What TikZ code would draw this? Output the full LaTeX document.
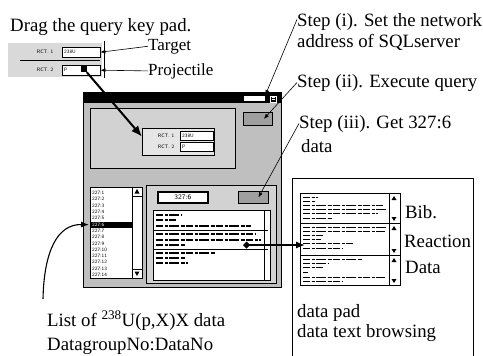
\documentclass[tikz,border=0pt]{standalone}
\usepackage{fontspec}
\setmainfont{Liberation Serif}
\usetikzlibrary{arrows.meta, positioning}
\tikzstyle{lbl} = [font=\fontsize{18.8}{22}\selectfont, inner sep=0pt, anchor=base west]
\tikzstyle{small} = [lbl, font=\fontsize{17}{20}\selectfont]
\tikzstyle{tiny} = [font=\fontsize{5}{6}\selectfont\sffamily, inner sep=0pt]
\tikzstyle{panel} = [draw, inner sep=0pt, anchor=north west]
\tikzstyle{btn} = [panel, fill=gray!75, line width=0.8pt]
\tikzstyle{field} = [panel, fill=white]
\tikzstyle{garble} = [line width=1.2pt, dash pattern=on 7pt off 1.5pt on 3pt off 1.5pt on 10pt off 1.5pt on 4pt off 1.5pt]
\tikzstyle{pointer} = [-{Latex[length=5pt,width=4pt]}, semithick]

\begin{document}
\begin{tikzpicture}[x=1pt, y=-1pt]
  \useasboundingbox (0,0) rectangle (483,356);

  % query key pad being dragged
  \node[lbl] (drag) at (10,31) {Drag the query key pad.};
  \node[panel, draw=none, fill=gray!30, minimum width=94pt, minimum height=34pt] (keypad) at (8,43) {};
  \draw (20,60) -- (100,60);
  \draw (104,41) -- (104,78);
  \node[tiny] at (45,52) {RCT. 1};
  \node[tiny] at (45,70) {RCT. 2};
  \node[field, minimum width=38pt, minimum height=10pt] (tgtfield) at (62,47) {};
  \node[field, minimum width=38pt, minimum height=10pt] (prjfield) at (62,65) {};
  \node[tiny, anchor=west] at (64,52) {238U};
  \node[tiny, anchor=west] at (64,70) {P};
  \node[fill=black, minimum size=6pt, inner sep=0pt] (grip) at (84,69) {};
  \node[small] (target) at (148,50) {Target};
  \node[small] (proj) at (148,75) {Projectile};
  \draw[pointer] (target.west) -- (tgtfield.east);
  \draw[pointer] (proj.west) -- (prjfield.east);

  % main window
  \node[panel, fill=gray!50, minimum width=198pt, minimum height=195pt] (win) at (83,92) {};
  \fill[black] (83,92) rectangle (281,103);
  \node[field, minimum width=22pt, minimum height=6pt] (addr) at (243,95) {};
  \node[panel, draw=white, fill=black, minimum size=6pt] (winicon) at (270,95.5) {};
  \draw[white] (271.5,97.5) -- (274.5,97.5) (271.5,99.5) -- (274.5,99.5);

  % query panel
  \node[panel, fill=gray!35, minimum width=145pt, minimum height=60pt] (qpanel) at (90,108) {};
  \node[panel, fill=gray!20, minimum width=72pt, minimum height=27pt] (querypad) at (142,128) {};
  \node[tiny] at (166,136) {RCT. 1};
  \node[tiny] at (166,147) {RCT. 2};
  \node[field, minimum width=33pt, minimum height=9pt] (qtgt) at (180,131) {};
  \node[field, minimum width=33pt, minimum height=9pt] (qprj) at (180,142) {};
  \node[tiny, anchor=west] at (182,135.5) {238U};
  \node[tiny, anchor=west] at (182,146.5) {P};
  \node[btn, minimum width=29pt, minimum height=13pt] (exec) at (243,112) {};

  % data list
  \node[field, minimum width=52pt, minimum height=91pt] (dlist) at (90,187) {};
  \node[fill=black, anchor=north west, minimum width=42pt, minimum height=6pt, inner sep=0pt] (selrow) at (90,221.5) {};
  \foreach \i in {1,...,14}{
    \ifnum\i=6 \def\tc{white}\else\def\tc{black}\fi
    \node[tiny, text=\tc, anchor=west] at (92,{193+6.3*(\i-1)}) {227:\i};
  }
  \draw (132,187) -- (132,278);
  \draw (132,196) -- (142,196) (132,269) -- (142,269);
  \fill (137,189) -- (134.5,193.5) -- (139.5,193.5) -- cycle;
  \fill (137,276) -- (134.5,271.5) -- (139.5,271.5) -- cycle;

  % data number and text
  \node[panel, fill=gray!35, minimum width=130pt, minimum height=98pt] (rpanel) at (146,185) {};
  \node[panel, line width=1.6pt, fill=white, minimum width=50pt, minimum height=11pt,
        font=\fontsize{7}{8}\selectfont\sffamily] (dnum) at (157,191) {327:6};
  \node[btn, minimum width=30pt, minimum height=12pt] (getbtn) at (238,191) {};
  \node[field, minimum width=117pt, minimum height=70pt] (dtext) at (153,210) {};
  \draw (153,230) -- (268,230) (153,249) -- (268,249);
  \draw (264,210) -- (264,280);
  \foreach \y/\l in {215/25, 220/20, 226/95, 234/100, 240/105, 245/30, 253/60, 258/30, 263/32}
    \draw[garble] (156,\y) -- ++(\l,0);

  % data pad
  \draw (292,356) |- (473,178) -- (473,356);
  \node[field, minimum width=100pt, minimum height=92pt] (dwin) at (300,193) {};
  \draw (300,223) -- (400,223) (300,255) -- (400,255);
  \draw (389,193) -- (389,285);
  \foreach \y in {196,226,258}
    \fill (394,\y) -- (391.5,{\y+4}) -- (396.5,{\y+4}) -- cycle;
  \foreach \y in {221,253,283}
    \fill (394,\y) -- (391.5,{\y-4}) -- (396.5,{\y-4}) -- cycle;
  \foreach \y/\l in {197/15, 201/12, 205/80, 209/84, 213/75, 218/30,
                     227/84, 231/82, 235/20, 239/18, 243/50, 248/40,
                     259/60, 263/25, 267/20, 272/5, 277/82, 281/40}
    \draw[garble, line width=1pt] (303,\y) -- ++(\l,0);

  \coordinate (pick) at (243,245);
  \draw[{Diamond[length=7pt,width=7pt]}-{Latex[length=9pt,width=7pt]}, line width=1.3pt]
    (pick) -- ([xshift=5pt]dwin.west |- pick);

  \node[lbl] (bib) at (405,218) {Bib.};
  \node[lbl] (react) at (404,247) {Reaction};
  \node[lbl] (datal) at (405,273) {Data};
  \node[lbl] (padlbl) at (297,317) {data pad};
  \node[lbl] (browse) at (297,337) {data text browsing};

  % steps
  \node[lbl] (stepi) at (297,27) {Step (i). Set the network};
  \node[lbl] (stepib) at (297,48) {address of SQLserver};
  \node[lbl] (stepii) at (297,87) {Step (ii). Execute query};
  \node[lbl] (stepiii) at (299,128) {Step (iii). Get 327:6};
  \node[lbl] (stepiiib) at (301,152) {data};
  \draw[pointer] ([yshift=3pt]stepi.west) -- (addr.north east);
  \draw[pointer] (stepii.west) -- ([xshift=6pt]exec.center);
  \draw[pointer] (stepiii.west) -- ([xshift=5pt]getbtn.center);

  % dragging the key pad
  \draw[line width=2pt, -{Latex[length=11pt,width=9pt]}] (grip) -- ([yshift=5pt]querypad.west);

  % list label
  \node[lbl] (listlbl) at (47,326) {List of \textsuperscript{238}U(p,X)X data};
  \node[lbl] (grplbl) at (47,350) {DatagroupNo:DataNo};
  \coordinate (curvestart) at (43,299);
  \draw[-{Latex[length=8pt,width=6pt]}, line width=1.1pt]
    (curvestart) .. controls (44,250) and (58,224) .. ([xshift=-1pt]selrow.west);
\end{tikzpicture}
\end{document}
